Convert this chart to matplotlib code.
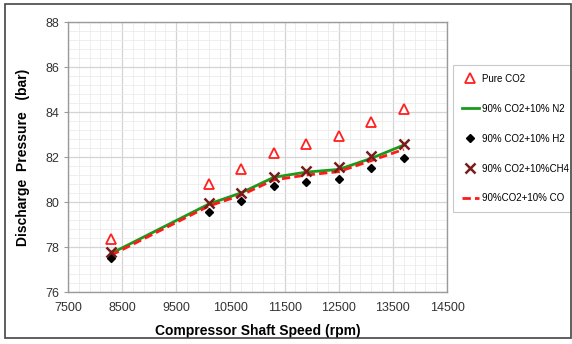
import numpy as np
import matplotlib.pyplot as plt
from matplotlib.patches import Rectangle

plt.rcParams['font.family'] = ['Liberation Sans', 'DejaVu Sans']

# shaft speed (rpm)
speed = [8300, 10100, 10700, 11300, 11900, 12500, 13100, 13700]

# discharge pressure (bar)
pure_co2 = [78.35, 80.8, 81.45, 82.2, 82.6, 82.93, 83.55, 84.15]
co2_n2 = [77.72, 79.91, 80.41, 81.1, 81.33, 81.45, 81.94, 82.53]
co2_h2 = [77.5, 79.57, 80.04, 80.71, 80.9, 81.02, 81.5, 81.94]
co2_ch4 = [77.8, 79.94, 80.41, 81.13, 81.39, 81.54, 82.04, 82.56]
co2_co = [77.64, 79.82, 80.31, 80.98, 81.2, 81.35, 81.84, 82.34]

x_ticks = [7500, 8500, 9500, 10500, 11500, 12500, 13500, 14500]
y_ticks = [76, 78, 80, 82, 84, 86, 88]

fig = plt.figure(figsize=(5.72, 3.44), dpi=100)
ax = fig.add_axes([0.1189, 0.151, 0.6626, 0.785])

# outer frame of the picture
fig.patches.append(Rectangle((5 / 572, 6 / 344), 566 / 572, 334 / 344,
                             transform=fig.transFigure, fill=False,
                             edgecolor='#444444', linewidth=1.2))

ax.plot(speed, pure_co2, linestyle='none', marker='^', markersize=7,
        markerfacecolor='white', markeredgecolor='#ff2020', markeredgewidth=1.3,
        label='Pure CO2', zorder=5)
ax.plot(speed, co2_n2, color='#1a9a1a', linewidth=2, label='90% CO2+10% N2', zorder=3)
ax.plot(speed, co2_h2, linestyle='none', marker='D', markersize=4.5,
        color='black', label='90% CO2+10% H2', zorder=5)
ax.plot(speed, co2_ch4, linestyle='none', marker='x', markersize=7,
        markeredgewidth=1.8, color='#7a1a1a', label='90% CO2+10%CH4', zorder=6)
ax.plot(speed, co2_co, color='#ff1a1a', linewidth=2, linestyle=(0, (3, 1.5)),
        label='90%CO2+10% CO', zorder=4)

ax.set_xlim(7500, 14500)
ax.set_ylim(76, 88)
ax.set_xticks(x_ticks)
ax.set_xticks(np.arange(7500, 14501, 200), minor=True)
ax.set_yticks(y_ticks)
ax.set_yticks(np.arange(76, 88.01, 0.4), minor=True)
ax.grid(which='major', color='#d4d4d4', linewidth=0.9)
ax.grid(which='minor', color='#ebebeb', linewidth=0.6)
ax.set_axisbelow(True)

for s in ax.spines.values():
    s.set_color('#9a9a9a')
    s.set_linewidth(1)

ax.tick_params(axis='both', which='major', labelsize=9, colors='#9a9a9a',
               labelcolor='#333333', length=3)
ax.tick_params(axis='x', which='major', length=0, pad=7)
ax.tick_params(which='minor', length=0)

ax.set_xlabel('Compressor Shaft Speed (rpm)', fontsize=10, fontweight='bold', labelpad=7)
ax.set_ylabel('Discharge  Pressure   (bar)', fontsize=10, fontweight='bold', labelpad=11)

leg = ax.legend(loc='upper left', bbox_to_anchor=(453 / 572, 1 - 65 / 344),
                bbox_transform=fig.transFigure, fontsize=7, frameon=True,
                fancybox=False, edgecolor='#bbbbbb', labelspacing=2.05,
                handlelength=1.75, handletextpad=0.35, borderpad=0.9,
                borderaxespad=0)
leg.get_frame().set_linewidth(0.8)

fig.savefig('out.png', dpi=100)
